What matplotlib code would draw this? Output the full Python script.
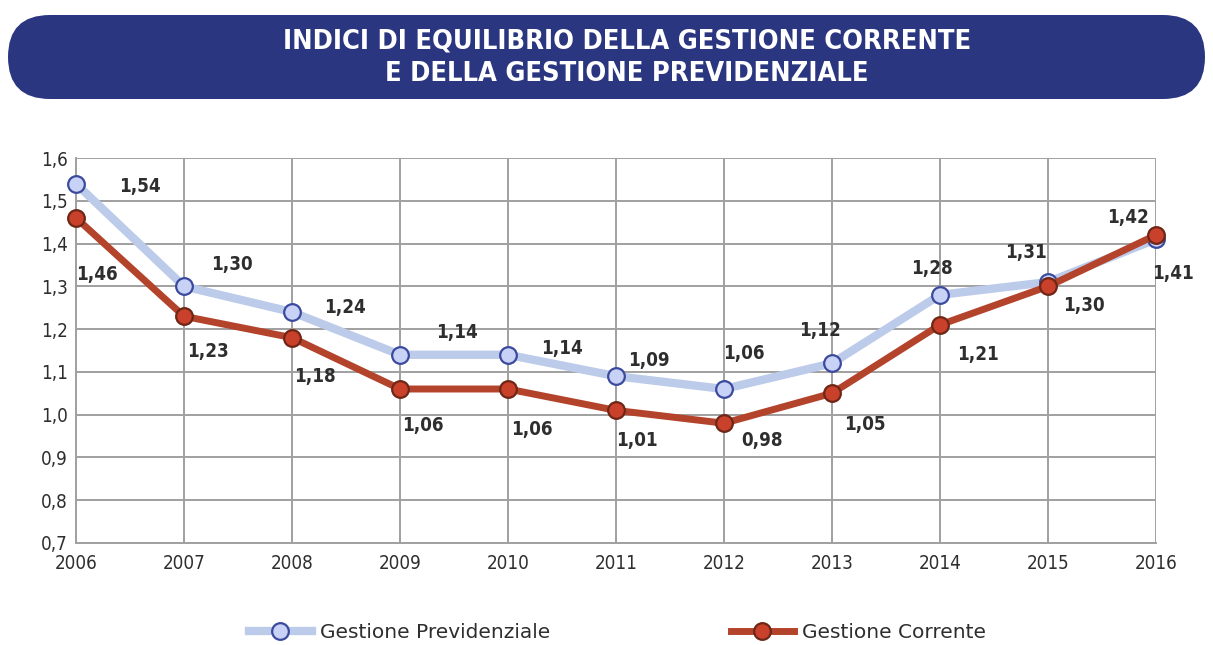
import matplotlib
matplotlib.use("Agg")
import matplotlib.pyplot as plt
from matplotlib.patches import FancyBboxPatch

# data
years = [2006, 2007, 2008, 2009, 2010, 2011, 2012, 2013, 2014, 2015, 2016]
previdenziale = [1.54, 1.30, 1.24, 1.14, 1.14, 1.09, 1.06, 1.12, 1.28, 1.31, 1.41]
corrente = [1.46, 1.23, 1.18, 1.06, 1.06, 1.01, 0.98, 1.05, 1.21, 1.30, 1.42]
yticks = [0.7, 0.8, 0.9, 1.0, 1.1, 1.2, 1.3, 1.4, 1.5, 1.6]

title_lines = ["INDICI DI EQUILIBRIO DELLA GESTIONE CORRENTE",
               "E DELLA GESTIONE PREVIDENZIALE"]

# label offsets in pixels (dx, dy)
prev_off = [(64, -3), (48, 22), (53, 5), (57, 22), (54, 6), (33, 16),
            (20, 35), (-12, 33), (-8, 26), (-22, 30), (17, -34)]
corr_off = [(21, -57), (24, -35), (23, -39), (23, -36), (24, -41), (21, -30),
            (38, -17), (33, -31), (38, -30), (36, -19), (-28, 18)]

FONT = dict(family="DejaVu Sans", stretch="condensed")
TXT = "#2e2e2e"
W, H = 1213, 645

fig = plt.figure(figsize=(W / 100, H / 100), dpi=100)
fig.patch.set_facecolor("white")

# title banner, drawn on a pixel-coordinate overlay
bg = fig.add_axes([0, 0, 1, 1])
bg.set_xlim(0, W)
bg.set_ylim(H, 0)
bg.axis("off")
bg.add_patch(FancyBboxPatch((8, 15), 1197, 84,
                            boxstyle="round,pad=0,rounding_size=42",
                            facecolor="#2b3680", edgecolor="none"))
bg.text(627, 42, title_lines[0], color="white", fontsize=19.5,
        fontweight="bold", ha="center", va="center", **FONT)
bg.text(627, 74, title_lines[1], color="white", fontsize=19.5,
        fontweight="bold", ha="center", va="center", **FONT)

ax = fig.add_axes([76 / W, 1 - 543 / H, (1156 - 76) / W, (543 - 158) / H])
ax.set_xlim(years[0], years[-1])
ax.set_ylim(0.7, 1.6)
ax.set_xticks(years)
ax.set_yticks(yticks)
ax.set_xticklabels([str(y) for y in years], fontsize=13.5, color=TXT, **FONT)
ax.set_yticklabels([f"{v:.1f}".replace(".", ",") for v in yticks], fontsize=13.5,
                   color=TXT, **FONT)
ax.grid(True, color="#a0a0a0", linewidth=1.4)
ax.set_axisbelow(True)
for side in ["top", "right"]:
    ax.spines[side].set_visible(False)
for side in ["left", "bottom"]:
    ax.spines[side].set_color("#a0a0a0")
    ax.spines[side].set_linewidth(1.4)
ax.tick_params(axis="both", length=0, pad=6)
ax.tick_params(axis="x", pad=8)

ax.plot(years, previdenziale, color="#bccbea", linewidth=6, marker="o",
        markersize=12, markerfacecolor="#c8d2f6", markeredgecolor="#3b4a9e",
        markeredgewidth=1.6, label="Gestione Previdenziale", zorder=3,
        clip_on=False)
ax.plot(years, corrente, color="#b4432b", linewidth=5, marker="o",
        markersize=12, markerfacecolor="#c9402b", markeredgecolor="#6e2616",
        markeredgewidth=1.6, label="Gestione Corrente", zorder=4,
        clip_on=False)

for x, v, (dx, dy) in zip(years, previdenziale, prev_off):
    ax.annotate(f"{v:.2f}".replace(".", ","), (x, v), xytext=(dx, dy),
                textcoords="offset pixels", ha="center", va="center",
                fontsize=13.5, fontweight="bold", color=TXT, **FONT)
for x, v, (dx, dy) in zip(years, corrente, corr_off):
    ax.annotate(f"{v:.2f}".replace(".", ","), (x, v), xytext=(dx, dy),
                textcoords="offset pixels", ha="center", va="center",
                fontsize=13.5, fontweight="bold", color=TXT, **FONT)

leg = fig.legend(loc="center", bbox_to_anchor=(0.509, 1 - 633 / H), ncol=2,
                 frameon=False, handlelength=3.1, columnspacing=9.0,
                 handletextpad=0.4, prop=dict(size=14.5, family="DejaVu Sans"))
for t in leg.get_texts():
    t.set_color(TXT)

fig.savefig("out.png", dpi=100)
